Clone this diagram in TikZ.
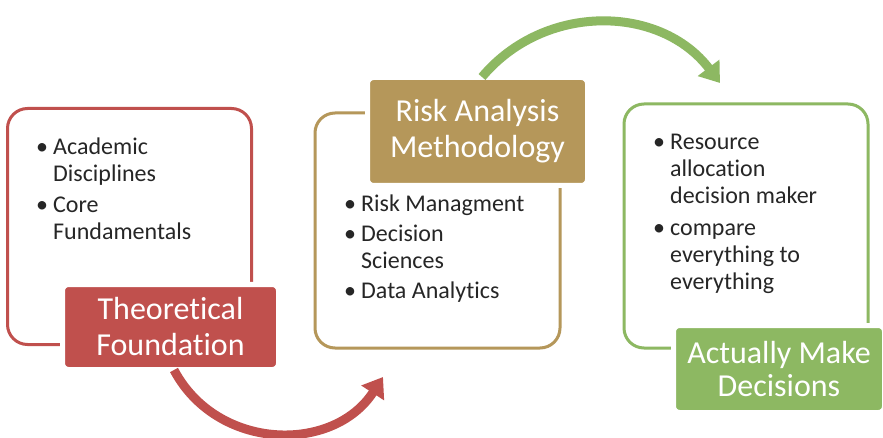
\documentclass[tikz,border=0pt]{standalone}
\usepackage{fontspec}
\setmainfont[RawFeature={-liga;-clig}]{Carlito}
\usetikzlibrary{arrows.meta}

\definecolor{theored}{HTML}{C0504D}
\definecolor{riskgold}{HTML}{B5975A}
\definecolor{decgreen}{HTML}{8DB862}
\definecolor{bodytext}{HTML}{262626}

\newcommand{\bul}{\makebox[17pt][l]{\textbullet}}

\begin{document}
\begin{tikzpicture}[x=1pt, y=-1pt]

    \tikzset{frame/.style={draw, line width=3pt, rounded corners=20pt, inner sep=0pt},
             label/.style={draw=white, line width=5pt, rounded corners=6pt, inner sep=0pt,
                           text=white, align=center, font=\fontsize{32}{36}\selectfont},
             bullets/.style={anchor=base west, inner sep=0pt, text=bodytext,
                             font=\fontsize{24}{27}\selectfont},
             flow/.style={line width=9pt, -{Triangle[length=19pt, width=26pt]}}}

    \fill[white] (0,0) rectangle (883,438);
    \useasboundingbox (0,0) rectangle (883,438);

    % Frames
    \node[frame, theored, minimum width=244pt, minimum height=236pt] (theoframe) at (129.5,226.5) {};
    \node[frame, riskgold, minimum width=245pt, minimum height=235pt] (riskframe) at (437.5,230.5) {};
    \node[frame, decgreen, minimum width=244pt, minimum height=244pt] (decframe) at (746,226) {};

    % Bullet texts
    \node[bullets] (theotext) at (36,155) {%
        \begin{tabular}[t]{@{}l@{}l@{}}
        \bul & Academic\\
             & Disciplines\\[4pt]
        \bul & Core\\
             & Fundamentals
        \end{tabular}};
    \node[bullets] (risktext) at (344,212) {%
        \begin{tabular}[t]{@{}l@{}l@{}}
        \bul & Risk Managment\\[3pt]
        \bul & Decision\\
             & Sciences\\[3pt]
        \bul & Data Analytics
        \end{tabular}};
    \node[bullets] (dectext) at (653,150) {%
        \begin{tabular}[t]{@{}l@{}l@{}}
        \bul & Resource\\
             & allocation\\
             & decision maker\\[5pt]
        \bul & compare\\
             & everything to\\
             & everything
        \end{tabular}};

    % Labels
    \node[label, fill=theored, minimum width=216pt, minimum height=85pt] (theo) at (170.5,327) {Theoretical\\Foundation};
    \node[label, fill=riskgold, minimum width=220pt, minimum height=108pt] (risk) at (477.5,131.5) {Risk Analysis\\Methodology};
    \node[label, fill=decgreen, minimum width=211pt, minimum height=87pt,
          font=\fontsize{32}{33}\selectfont] (dec) at (779,369) {Actually Make\\Decisions};

    % Arrows
    \coordinate (redend) at (383,377);
    \coordinate (greenend) at (720,83);
    \draw[flow, theored] ([xshift=3.5pt, yshift=2pt]theo.south) .. controls +(43,81) and +(-50,77) .. (redend);
    \draw[flow, decgreen] ([xshift=4.5pt, yshift=-2pt]risk.north) .. controls +(63,-75) and +(-59,-78) .. (greenend);

\end{tikzpicture}
\end{document}
